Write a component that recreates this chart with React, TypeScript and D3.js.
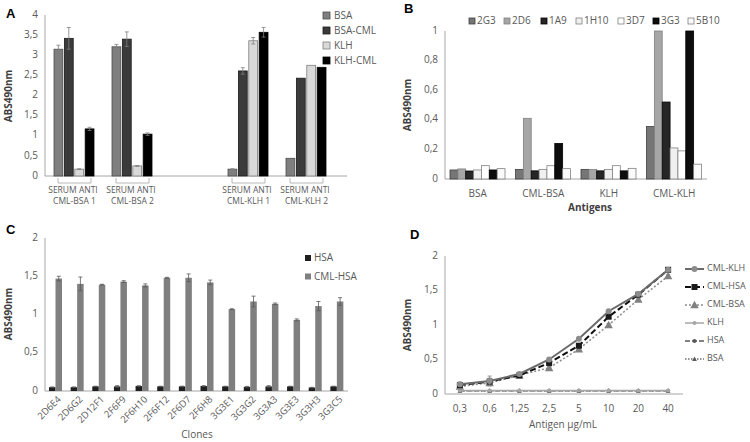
import React from "react";
import * as d3 from "d3";

// ---------- Panel A data ----------
const aGroups = ["CML-BSA 1", "CML-BSA 2", "", "CML-KLH 1", "CML-KLH 2"];
const aSeries = ["BSA", "BSA-CML", "KLH", "KLH-CML"];
const aBSA = [3.15, 3.21, null, 0.17, 0.44];
const aBSACML = [3.42, 3.4, null, 2.61, 2.43];
const aKLH = [0.17, 0.25, null, 3.36, 2.75];
const aKLHCML = [1.17, 1.04, null, 3.57, 2.7];
const aBSAErr = [0.1, 0.06, null, 0.01, 0];
const aBSACMLErr = [0.27, 0.18, null, 0.08, 0];
const aKLHErr = [0.01, 0.01, null, 0.08, 0];
const aKLHCMLErr = [0.04, 0.03, null, 0.12, 0];
const aTicks = [0, 0.5, 1, 1.5, 2, 2.5, 3, 3.5, 4];

// ---------- Panel B data ----------
const bCats = ["BSA", "CML-BSA", "KLH", "CML-KLH"];
const bSeries = ["2G3", "2D6", "1A9", "1H10", "3D7", "3G3", "5B10"];
const b2G3 = [0.061, 0.065, 0.065, 0.355];
const b2D6 = [0.068, 0.41, 0.065, 1.0];
const b1A9 = [0.054, 0.055, 0.055, 0.52];
const b1H10 = [0.061, 0.065, 0.065, 0.21];
const b3D7 = [0.09, 0.09, 0.09, 0.19];
const b3G3 = [0.061, 0.24, 0.055, 1.0];
const b5B10 = [0.07, 0.07, 0.072, 0.1];
const bTicks = [0, 0.2, 0.4, 0.6, 0.8, 1];

// ---------- Panel C data ----------
const cClones = ["2D6E4", "2D6G2", "2D12F1", "2F6F9", "2F6H10", "2F6F12", "2F6D7", "2F6H8", "3G3E1", "3G3G2", "3G3A3", "3G3E3", "3G3H3", "3G3C5"];
const cHSA = [0.05, 0.05, 0.06, 0.06, 0.065, 0.06, 0.06, 0.065, 0.06, 0.055, 0.06, 0.06, 0.045, 0.06];
const cCMLHSA = [1.47, 1.4, 1.39, 1.43, 1.38, 1.48, 1.48, 1.42, 1.07, 1.17, 1.14, 0.93, 1.11, 1.17];
const cHSAErr = [0.003, 0.003, 0.003, 0.01, 0.005, 0.003, 0.003, 0.005, 0.003, 0.005, 0.01, 0.003, 0.003, 0.003];
const cCMLHSAErr = [0.03, 0.09, 0.005, 0.012, 0.02, 0.006, 0.05, 0.03, 0.005, 0.07, 0.01, 0.012, 0.06, 0.05];
const cTicks = [0, 0.5, 1, 1.5, 2];

// ---------- Panel D data ----------
const dConc = ["0,3", "0,6", "1,25", "2,5", "5", "10", "20", "40"];
const dCMLKLH = [0.14, 0.19, 0.29, 0.5, 0.8, 1.2, 1.45, 1.8];
const dCMLHSA = [0.13, 0.18, 0.27, 0.45, 0.7, 1.12, 1.44, 1.8];
const dCMLBSA = [0.11, 0.16, 0.27, 0.38, 0.65, 1.0, 1.37, 1.71];
const dKLH = [0.05, 0.05, 0.05, 0.05, 0.05, 0.05, 0.05, 0.05];
const dHSA = [0.048, 0.048, 0.048, 0.048, 0.048, 0.048, 0.048, 0.048];
const dBSA = [0.047, 0.047, 0.047, 0.047, 0.047, 0.047, 0.047, 0.047];
const dCMLKLHErr = [0.03, 0.07, 0.02, 0.02, 0.02, 0.02, 0.02, 0.02];
const dCMLHSAErr = [0.02, 0.05, 0.02, 0.02, 0.02, 0.02, 0.02, 0.02];
const dCMLBSAErr = [0.02, 0.04, 0.02, 0.02, 0.02, 0.02, 0.02, 0.02];
const dTicks = [0, 0.5, 1, 1.5, 2];

const FONT = "'Open Sans', 'Liberation Sans', sans-serif";
const TICK_COLOR = "#595959";
const AXIS_COLOR = "#a6a6a6";
const comma = (d: number) => String(d).replace(".", ",");

function YAxis({ scale, ticks, x, size = 10 }: any) {
  const [r0, r1] = scale.range();
  return (
    <g>
      <line x1={x} x2={x} y1={r0} y2={r1} stroke={AXIS_COLOR} strokeWidth={1} />
      {ticks.map((t: number) => (
        <text key={t} x={x - 7} y={scale(t)} textAnchor="end" dominantBaseline="middle" fontSize={size} fill={TICK_COLOR} fontFamily={FONT}>
          {comma(t)}
        </text>
      ))}
    </g>
  );
}

function ErrBar({ x, y0, y1, cap = 4, color = "#7f7f7f" }: any) {
  return (
    <g stroke={color} strokeWidth={0.8}>
      <line x1={x} x2={x} y1={y0} y2={y1} />
      <line x1={x - cap / 2} x2={x + cap / 2} y1={y0} y2={y0} />
      <line x1={x - cap / 2} x2={x + cap / 2} y1={y1} y2={y1} />
    </g>
  );
}

function PanelA() {
  const y = d3.scaleLinear().domain([0, 4]).range([176, 15]);
  const x0 = d3.scaleBand<string>().domain(aGroups.map((g, i) => String(i))).range([45, 335]);
  const x1 = d3.scaleBand<string>().domain(aSeries).range([9, 49]).paddingInner(0.15);
  const vals = [aBSA, aBSACML, aKLH, aKLHCML];
  const errs = [aBSAErr, aBSACMLErr, aKLHErr, aKLHCMLErr];
  const fills = ["#7f7f7f", "#3b3b3b", "#d9d9d9", "#000000"];
  const strokes = ["#4d4d4d", "#1a1a1a", "#7f7f7f", "#000000"];
  return (
    <g>
      <text x={6} y={18} fontSize={13} fontWeight="bold" fontFamily="'Liberation Sans', Arial, sans-serif">A</text>
      <YAxis scale={y} ticks={aTicks} x={45} />
      <line x1={45} x2={347} y1={176} y2={176} stroke={AXIS_COLOR} />
      <text transform={`translate(12,96) rotate(-90)`} textAnchor="middle" fontSize={10} fontWeight="bold" fill="#404040" fontFamily={FONT}>ABS490nm</text>
      {aGroups.map((g, gi) => {
        const gx = x0(String(gi))!;
        return (
          <g key={gi}>
            {aSeries.map((s, si) => {
              const v = vals[si][gi];
              if (v == null) return null;
              const bx = gx + x1(s)!;
              const bw = x1.bandwidth();
              const e = errs[si][gi] as number;
              return (
                <g key={s}>
                  <rect x={bx} y={y(v)} width={bw} height={y(0) - y(v)} fill={fills[si]} stroke={strokes[si]} strokeWidth={0.8} />
                  {e > 0 && <ErrBar x={bx + bw / 2} y0={y(v - e)} y1={y(v + e)} cap={4} />}
                </g>
              );
            })}
            {g !== "" && (
              <g>
                <path d={`M${gx + 13},178 V183 H${gx + 46} V178`} fill="none" stroke={AXIS_COLOR} strokeWidth={0.8} />
                <text x={gx + 28} y={193} textAnchor="middle" fontSize={8.5} fill={TICK_COLOR} fontFamily={FONT}>SERUM ANTI</text>
                <text x={gx + 29.5} y={204} textAnchor="middle" fontSize={8.5} fill={TICK_COLOR} fontFamily={FONT}>{g}</text>
              </g>
            )}
          </g>
        );
      })}
      {aSeries.map((s, si) => (
        <g key={s}>
          <rect x={323} y={12 + si * 15} width={7} height={7} fill={fills[si]} stroke={strokes[si]} strokeWidth={0.8} />
          <text x={334} y={16 + si * 15} dominantBaseline="middle" fontSize={10} fill={TICK_COLOR} fontFamily={FONT}>{s}</text>
        </g>
      ))}
    </g>
  );
}

function PanelB() {
  const y = d3.scaleLinear().domain([0, 1]).range([179, 31]);
  const x0 = d3.scaleBand<string>().domain(bCats).range([445, 707]);
  const x1 = d3.scaleBand<string>().domain(bSeries).range([5, 60]);
  const vals = [b2G3, b2D6, b1A9, b1H10, b3D7, b3G3, b5B10];
  const fills = ["#767676", "#a6a6a6", "#262626", "#f0f0f0", "#ffffff", "#0d0d0d", "#fafafa"];
  const strokes = ["#404040", "#808080", "#000000", "#808080", "#808080", "#000000", "#808080"];
  const legX = [469, 504, 541, 576, 618, 653, 688];
  return (
    <g>
      <text x={404} y={13} fontSize={13} fontWeight="bold" fontFamily="'Liberation Sans', Arial, sans-serif">B</text>
      <YAxis scale={y} ticks={bTicks} x={445} />
      <line x1={445} x2={707} y1={179} y2={179} stroke={AXIS_COLOR} />
      <text transform={`translate(411,105) rotate(-90)`} textAnchor="middle" fontSize={10} fontWeight="bold" fill="#404040" fontFamily={FONT}>ABS490nm</text>
      {bCats.map((c, ci) => (
        <g key={c}>
          {bSeries.map((s, si) => {
            const v = Math.min(vals[si][ci], 1);
            return <rect key={s} x={x0(c)! + x1(s)!} y={y(v)} width={x1.bandwidth()} height={y(0) - y(v)} fill={fills[si]} stroke={strokes[si]} strokeWidth={0.8} />;
          })}
          <text x={x0(c)! + x0.bandwidth() / 2} y={194} textAnchor="middle" dominantBaseline="middle" fontSize={10} fill={TICK_COLOR} fontFamily={FONT}>{c}</text>
        </g>
      ))}
      <text x={590} y={211} textAnchor="middle" fontSize={10} fontWeight="bold" fill="#404040" fontFamily={FONT}>Antigens</text>
      {bSeries.map((s, si) => (
        <g key={s}>
          <rect x={legX[si]} y={18} width={6} height={6} fill={fills[si]} stroke={strokes[si]} strokeWidth={0.8} />
          <text x={legX[si] + 8} y={21.5} dominantBaseline="middle" fontSize={10} fill={TICK_COLOR} fontFamily={FONT}>{s}</text>
        </g>
      ))}
    </g>
  );
}

function PanelC() {
  const y = d3.scaleLinear().domain([0, 2]).range([391, 238]);
  const x0 = d3.scaleBand<string>().domain(cClones).range([45, 348]);
  const x1 = d3.scaleBand<string>().domain(["HSA", "CML-HSA"]).range([4, 17]);
  const series = [
    { name: "HSA", vals: cHSA, errs: cHSAErr, fill: "#1f1f1f" },
    { name: "CML-HSA", vals: cCMLHSA, errs: cCMLHSAErr, fill: "#7f7f7f" },
  ];
  return (
    <g>
      <text x={6} y={234} fontSize={13} fontWeight="bold" fontFamily="'Liberation Sans', Arial, sans-serif">C</text>
      <YAxis scale={y} ticks={cTicks} x={45} />
      <line x1={45} x2={348} y1={391} y2={391} stroke={AXIS_COLOR} />
      <text transform={`translate(12,314) rotate(-90)`} textAnchor="middle" fontSize={10} fontWeight="bold" fill="#404040" fontFamily={FONT}>ABS490nm</text>
      {cClones.map((c, ci) => (
        <g key={c}>
          {series.map((s) => {
            const bx = x0(c)! + x1(s.name)!;
            const bw = x1.bandwidth();
            const v = s.vals[ci];
            const e = s.errs[ci];
            return (
              <g key={s.name}>
                <rect x={bx} y={y(v)} width={bw} height={y(0) - y(v)} fill={s.fill} />
                <ErrBar x={bx + bw / 2} y0={y(v - e)} y1={y(v + e)} cap={4} color="#595959" />
              </g>
            );
          })}
          <text transform={`translate(${x0(c)! + x0.bandwidth() / 2 + 4},398) rotate(-45)`} textAnchor="end" dominantBaseline="middle" fontSize={9.5} fill={TICK_COLOR} fontFamily={FONT}>{c}</text>
        </g>
      ))}
      <text x={197} y={438} textAnchor="middle" fontSize={10} fill={TICK_COLOR} fontFamily={FONT}>Clones</text>
      {series.map((s, si) => (
        <g key={s.name}>
          <rect x={305} y={255 + si * 18.5} width={6} height={6} fill={s.fill} />
          <text x={314} y={258.5 + si * 18.5} dominantBaseline="middle" fontSize={10} fill={TICK_COLOR} fontFamily={FONT}>{s.name}</text>
        </g>
      ))}
    </g>
  );
}

function Marker({ type, x, y, color, size }: any) {
  if (type === "circle") return <circle cx={x} cy={y} r={size} fill={color} />;
  if (type === "square") return <rect x={x - size} y={y - size} width={size * 2} height={size * 2} fill={color} />;
  const s = size * 1.2;
  return <path d={`M${x},${y - s} L${x + s},${y + s * 0.8} L${x - s},${y + s * 0.8} Z`} fill={color} />;
}

function PanelD() {
  const y = d3.scaleLinear().domain([0, 2]).range([394, 256]);
  const x = d3.scalePoint<string>().domain(dConc).range([445, 683]).padding(0.5);
  const series = [
    { name: "CML-KLH", vals: dCMLKLH, errs: dCMLKLHErr, stroke: "#6b6b6b", dash: "", width: 2, marker: "circle", mcolor: "#8c8c8c", msize: 3 },
    { name: "CML-HSA", vals: dCMLHSA, errs: dCMLHSAErr, stroke: "#0d0d0d", dash: "6,3", width: 2, marker: "square", mcolor: "#1a1a1a", msize: 3 },
    { name: "CML-BSA", vals: dCMLBSA, errs: dCMLBSAErr, stroke: "#8c8c8c", dash: "2,2", width: 1.5, marker: "triangle", mcolor: "#808080", msize: 3.5 },
    { name: "KLH", vals: dKLH, errs: null, stroke: "#a6a6a6", dash: "", width: 1.5, marker: "circle", mcolor: "#a6a6a6", msize: 2 },
    { name: "HSA", vals: dHSA, errs: null, stroke: "#595959", dash: "5,2", width: 1.5, marker: "circle", mcolor: "#595959", msize: 2 },
    { name: "BSA", vals: dBSA, errs: null, stroke: "#262626", dash: "1.5,1.5", width: 1.2, marker: "triangle", mcolor: "#595959", msize: 2 },
  ];
  const line = d3.line<number>().x((_, i) => x(dConc[i])!).y((d) => y(d));
  const drawOrder = [...series].reverse();
  return (
    <g>
      <text x={410} y={239} fontSize={13} fontWeight="bold" fontFamily="'Liberation Sans', Arial, sans-serif">D</text>
      <YAxis scale={y} ticks={dTicks} x={445} />
      <line x1={445} x2={683} y1={394} y2={394} stroke={AXIS_COLOR} />
      <text transform={`translate(411,325) rotate(-90)`} textAnchor="middle" fontSize={10} fontWeight="bold" fill="#404040" fontFamily={FONT}>ABS490nm</text>
      {dConc.map((c) => (
        <text key={c} x={x(c)} y={409} textAnchor="middle" dominantBaseline="middle" fontSize={10} fill={TICK_COLOR} fontFamily={FONT}>{c}</text>
      ))}
      <text x={563} y={428} textAnchor="middle" fontSize={10} fill={TICK_COLOR} fontFamily={FONT}>Antigen µg/mL</text>
      {drawOrder.map((s) => (
        <g key={s.name}>
          <path d={line(s.vals)!} fill="none" stroke={s.stroke} strokeWidth={s.width} strokeDasharray={s.dash} />
          {s.errs && s.vals.map((v, i) => (
            <ErrBar key={i} x={x(dConc[i])} y0={y(v - s.errs![i])} y1={y(v + s.errs![i])} cap={4} color="#7f7f7f" />
          ))}
          {s.vals.map((v, i) => (
            <Marker key={i} type={s.marker} x={x(dConc[i])} y={y(v)} color={s.mcolor} size={s.msize} />
          ))}
        </g>
      ))}
      {series.map((s, si) => {
        const ly = 269 + si * 18;
        return (
          <g key={s.name}>
            <line x1={685} x2={704} y1={ly} y2={ly} stroke={s.stroke} strokeWidth={s.width} strokeDasharray={s.dash} />
            <Marker type={s.marker} x={694.5} y={ly} color={s.mcolor} size={s.msize} />
            <text x={707} y={ly} dominantBaseline="middle" fontSize={9} fill={TICK_COLOR} fontFamily={FONT}>{s.name}</text>
          </g>
        );
      })}
    </g>
  );
}

export default function App() {
  return (
    <svg width={750} height={442} style={{ position: "absolute", left: 0, top: 0, background: "#fff" }} fontFamily={FONT}>
      <rect width={750} height={442} fill="#fff" />
      <PanelA />
      <PanelB />
      <PanelC />
      <PanelD />
    </svg>
  );
}
